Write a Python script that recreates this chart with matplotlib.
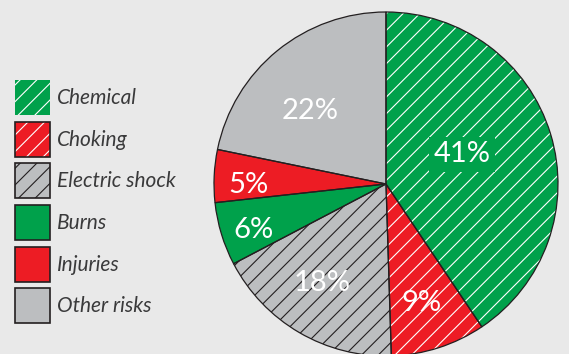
import matplotlib
matplotlib.use('Agg')
import matplotlib.pyplot as plt
from matplotlib.patches import Patch, Wedge
import numpy as np

# data (sums to 101 because of rounding)
labels = ['Chemical', 'Choking', 'Electric shock', 'Burns', 'Injuries', 'Other risks']
values = [41, 9, 18, 6, 5, 22]
colors = ['#00a14b', '#ed1c24', '#bcbec0', '#00a14b', '#ed1c24', '#bcbec0']
hatches = ['//', '//', '//', None, None, None]
hatch_colors = ['white', 'white', '#231f20', None, None, None]

# label placement (fraction of radius, angular nudge in degrees)
lab_dist = [0.48, 0.71, 0.67, 0.81, 0.80, 0.625]
lab_shift = [6.2, -0.7, -3.4, 1.1, 2.0, 5.8]

bg = '#e9e9e9'
edge = '#231f20'
plt.rcParams['hatch.linewidth'] = 0.8

fig = plt.figure(figsize=(5.69, 3.54), dpi=100, facecolor=bg)
ax = fig.add_axes([0, 0, 1, 1])
ax.set_facecolor(bg)

wedges, _ = ax.pie(values, colors=colors, startangle=90, counterclock=False,
                   wedgeprops=dict(linewidth=0))

for w, h, hc in zip(wedges, hatches, hatch_colors):
    if h:
        ax.add_patch(Wedge(w.center, w.r, w.theta1, w.theta2, facecolor='none',
                           edgecolor=hc, linewidth=0, hatch=h, zorder=1.5))
    ax.add_patch(Wedge(w.center, w.r, w.theta1, w.theta2, facecolor='none',
                       edgecolor=edge, linewidth=0.9, zorder=2))

for i, w in enumerate(wedges):
    ang = np.deg2rad((w.theta1 + w.theta2) / 2 + lab_shift[i])
    x = lab_dist[i] * np.cos(ang)
    y = lab_dist[i] * np.sin(ang)
    box = None
    if i == 0:
        box = dict(boxstyle='square,pad=0.15', facecolor=colors[0], edgecolor='none')
    ax.annotate(f'{values[i]}%', (x, y), xytext=(0, -2), textcoords='offset points',
                ha='center', va='center', color='white', fontsize=21,
                family='Lato', weight='normal', bbox=box, zorder=3)

# pie radius = 1 -> 172 px, centre at (386, 184) px from top-left
ax.set_xlim(-386 / 172, (569 - 386) / 172)
ax.set_ylim(-(354 - 184) / 172, 184 / 172)
ax.set_aspect('auto')
ax.axis('off')

handles = []
for c, h, hc, i in zip(colors, hatches, hatch_colors, range(6)):
    parts = [Patch(facecolor=c, linewidth=0)]
    if h:
        parts.append(Patch(facecolor='none', edgecolor=hc, linewidth=0, hatch=h))
    if i > 0:
        parts.append(Patch(facecolor='none', edgecolor=edge, linewidth=1.2))
    handles.append(tuple(parts))

fs = 15
fs_px = fs * 100 / 72
hh = (35 / fs_px - 0.245) / 0.65   # legend handle height so the swatch is 35 px
leg = fig.legend(handles, labels, loc='upper left',
                 bbox_to_anchor=(15 / 569, 1 - 80 / 354), frameon=False,
                 handlelength=35 / fs_px, handleheight=hh, labelspacing=0.32,
                 handletextpad=0.34, borderpad=0, borderaxespad=0,
                 prop=dict(family='Lato', weight='normal', style='italic', size=fs))
for t in leg.get_texts():
    t.set_color('#3a3a3b')

fig.savefig('out.png', dpi=100, facecolor=bg)
